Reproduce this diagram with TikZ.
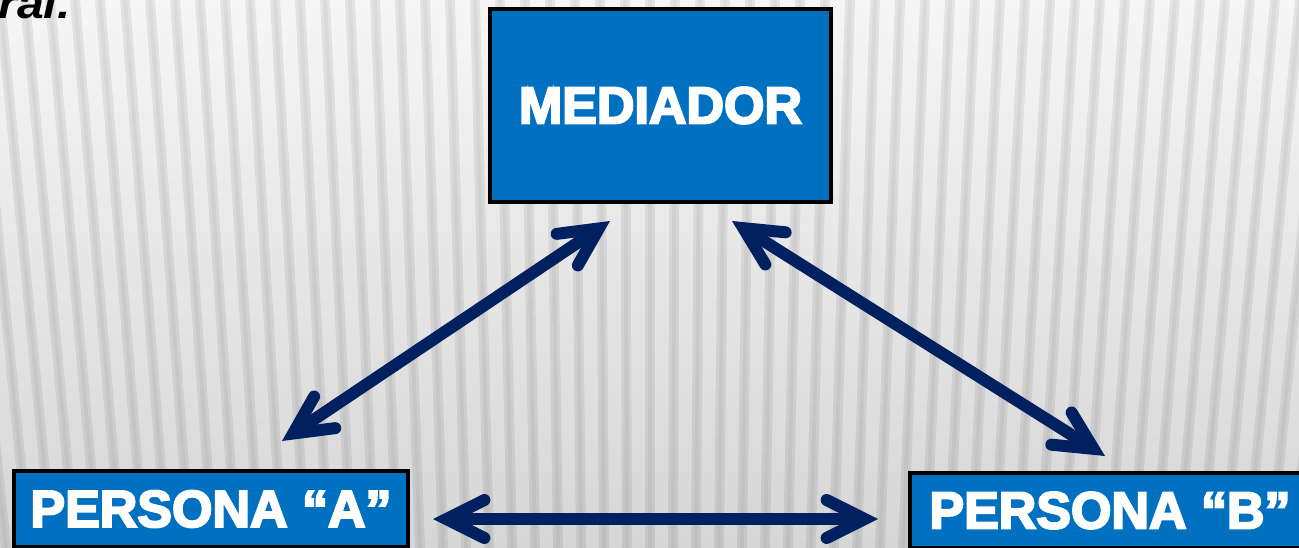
\documentclass[tikz,border=0pt]{standalone}
\usepackage{fontspec}
\setmainfont{Liberation Sans}
\newfontfamily\boxfont{Liberation Sans Bold}[FakeBold=4]
\newfontfamily\topfont{Liberation Sans Bold Italic}
\usetikzlibrary{arrows.meta,calc}
\definecolor{boxblue}{HTML}{0070C0}
\definecolor{navy}{HTML}{002060}
\definecolor{bgtop}{HTML}{F6F6F6}
\definecolor{bgbot}{HTML}{D6D6D6}
\tikzset{
  bluebox/.style={draw=black, line width=4pt, fill=boxblue, text=white, inner sep=0pt,
    font={\boxfont\fontsize{52}{56}\selectfont}},
  duo/.style={draw=navy, line width=12pt,
    {Straight Barb[length=38pt, width=38pt, line cap=round, line join=miter]}-{Straight Barb[length=38pt, width=38pt, line cap=round, line join=miter]}},
  stripe/.style={line width=10pt, draw=black, draw opacity=0.07},
  stripecore/.style={line width=4pt, draw=black, draw opacity=0.04}
}
\begin{document}
\begin{tikzpicture}[x=1pt,y=-1pt]
\useasboundingbox (0,0) rectangle (1299,548);
\clip (0,0) rectangle (1299,548);
% background
\shade[top color=bgtop, bottom color=bgbot] (0,0) rectangle (1299,548);
\foreach \x in {-150,-125,...,1450} {
  \draw[stripe] (\x,0) -- ({650+(\x-650)*0.92},548);
  \draw[stripecore] (\x,0) -- ({650+(\x-650)*0.92},548);
}
% partial text top-left
\node[anchor=base west, inner sep=0pt, xscale=1.15, font={\topfont\fontsize{42}{46}\selectfont}] (frag) at (-2,19) {ral.};
% boxes
\node[bluebox, minimum width=341pt, minimum height=193pt] (med) at (660.5,105.5) {MEDIADOR};
\node[bluebox, minimum width=394pt, minimum height=76pt] (pa) at (211,509) {PERSONA “A”};
\node[bluebox, minimum width=400pt, minimum height=75pt] (pb) at (1110,510.5) {PERSONA “B”};
% arrow ends
\coordinate (ma) at ($(med.south)+(-50.5,17)$);
\coordinate (mb) at ($(med.south)+(71.5,17)$);
\coordinate (am) at ($(pa.north)+(71,-28)$);
\coordinate (bm) at ($(pb.north)+(-5,-15)$);
\coordinate (ab) at ($(pa.east)+(23,10)$);
\coordinate (ba) at ($(pb.west)+(-30,8.5)$);
% connectors
\draw[duo] (am) -- (ma);
\draw[duo] (mb) -- (bm);
\draw[duo] (ab) -- (ba);
\end{tikzpicture}
\end{document}
